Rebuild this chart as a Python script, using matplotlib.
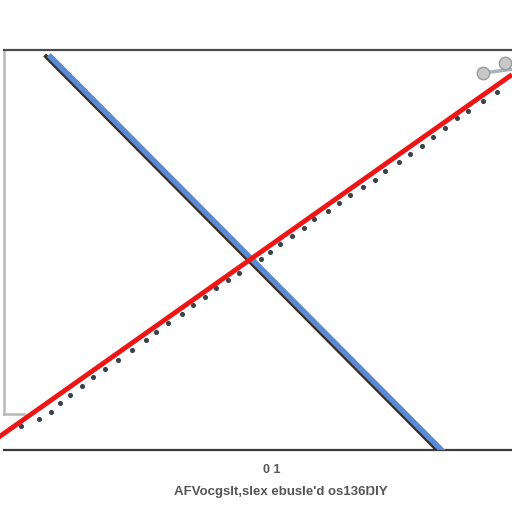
import matplotlib
matplotlib.use("Agg")
import matplotlib.pyplot as plt

# Data (axes units 0-100)
blue_x = [8.5, 86.2]
blue_y = [98.75, -0.5]
red_x = [-1.0, 99.6]
red_y = [3.25, 93.5]
dots_x = [3.35, 6.9, 9.27, 11.05, 13.0, 15.4, 17.55, 19.9, 22.5, 25.2, 28.0, 30.0,
          32.3, 35.1, 37.3, 39.6, 41.8, 44.0, 46.2, 50.5, 52.3, 54.4, 56.6, 59.0,
          61.1, 63.7, 65.9, 68.2, 70.6, 73.0, 74.95, 77.7, 79.9, 82.2, 84.4, 86.8,
          89.2, 91.3, 94.3, 97.0]
dots_y = [6.0, 7.75, 9.5, 11.75, 13.75, 16.0, 18.25, 20.25, 22.5, 25.0, 27.5, 29.5,
          31.75, 34.0, 36.25, 38.25, 40.5, 42.5, 44.25, 47.75, 49.5, 51.5, 53.5, 55.5,
          57.75, 59.75, 61.75, 63.75, 65.75, 67.5, 69.75, 72.0, 74.0, 76.0, 78.25, 80.5,
          83.0, 84.75, 87.25, 89.5]
knob_x = [94.3, 98.6]
knob_y = [94.25, 96.75]
tick_text = "0 1"
label_text = "AFVocgslt,slex ebusle'd os136ŊIY"

fig = plt.figure(figsize=(5.12, 5.12), dpi=100)
fig.patch.set_facecolor("white")
ax = fig.add_axes([4/512, 62/512, 508/512, 400/512])
ax.set_xlim(0, 100)
ax.set_ylim(0, 100)
ax.set_xticks([])
ax.set_yticks([])
ax.spines["right"].set_visible(False)
ax.spines["top"].set_color("#4a4a4a")
ax.spines["top"].set_linewidth(1.6)
ax.spines["bottom"].set_color("#3a3a3a")
ax.spines["bottom"].set_linewidth(1.6)
ax.spines["left"].set_color("#b8b8b8")
ax.spines["left"].set_linewidth(1.8)
ax.spines["left"].set_bounds(9, 100)
ax.plot([0, 4], [9, 9], color="#b8b8b8", lw=1.8, clip_on=False)

# dotted series
ax.scatter(dots_x, dots_y, s=7, color="#3a4448", zorder=3, clip_on=False)

# blue line with dark edge
ax.plot([x - 0.5 for x in blue_x], blue_y, color="#3b2a20", lw=3.0,
        solid_capstyle="butt", zorder=4)
ax.plot([x + 0.3 for x in blue_x], blue_y, color="#5a8ad4", lw=4.0,
        solid_capstyle="butt", zorder=5)

# red line
ax.plot(red_x, red_y, color="#ee1515", lw=3.5, zorder=6, clip_on=False)

# knobs
ax.plot([knob_x[0], 100], [knob_y[0], 95.2], color="#a8b4bc", lw=2.5, zorder=6, clip_on=False)
ax.scatter(knob_x, knob_y, s=80, color="#c8c8c8", edgecolor="#9a9a9a", zorder=7, clip_on=False)

fig.text(272/512, 1 - 470/512, tick_text, ha="center", va="center", fontsize=9,
         fontweight="bold", color="#555555", family="Liberation Sans")
fig.text(281/512, 1 - 492/512, label_text, ha="center", va="center", fontsize=9.5,
         fontweight="bold", color="#555555", family="Liberation Sans")

fig.savefig("out.png", dpi=100, facecolor="white")
